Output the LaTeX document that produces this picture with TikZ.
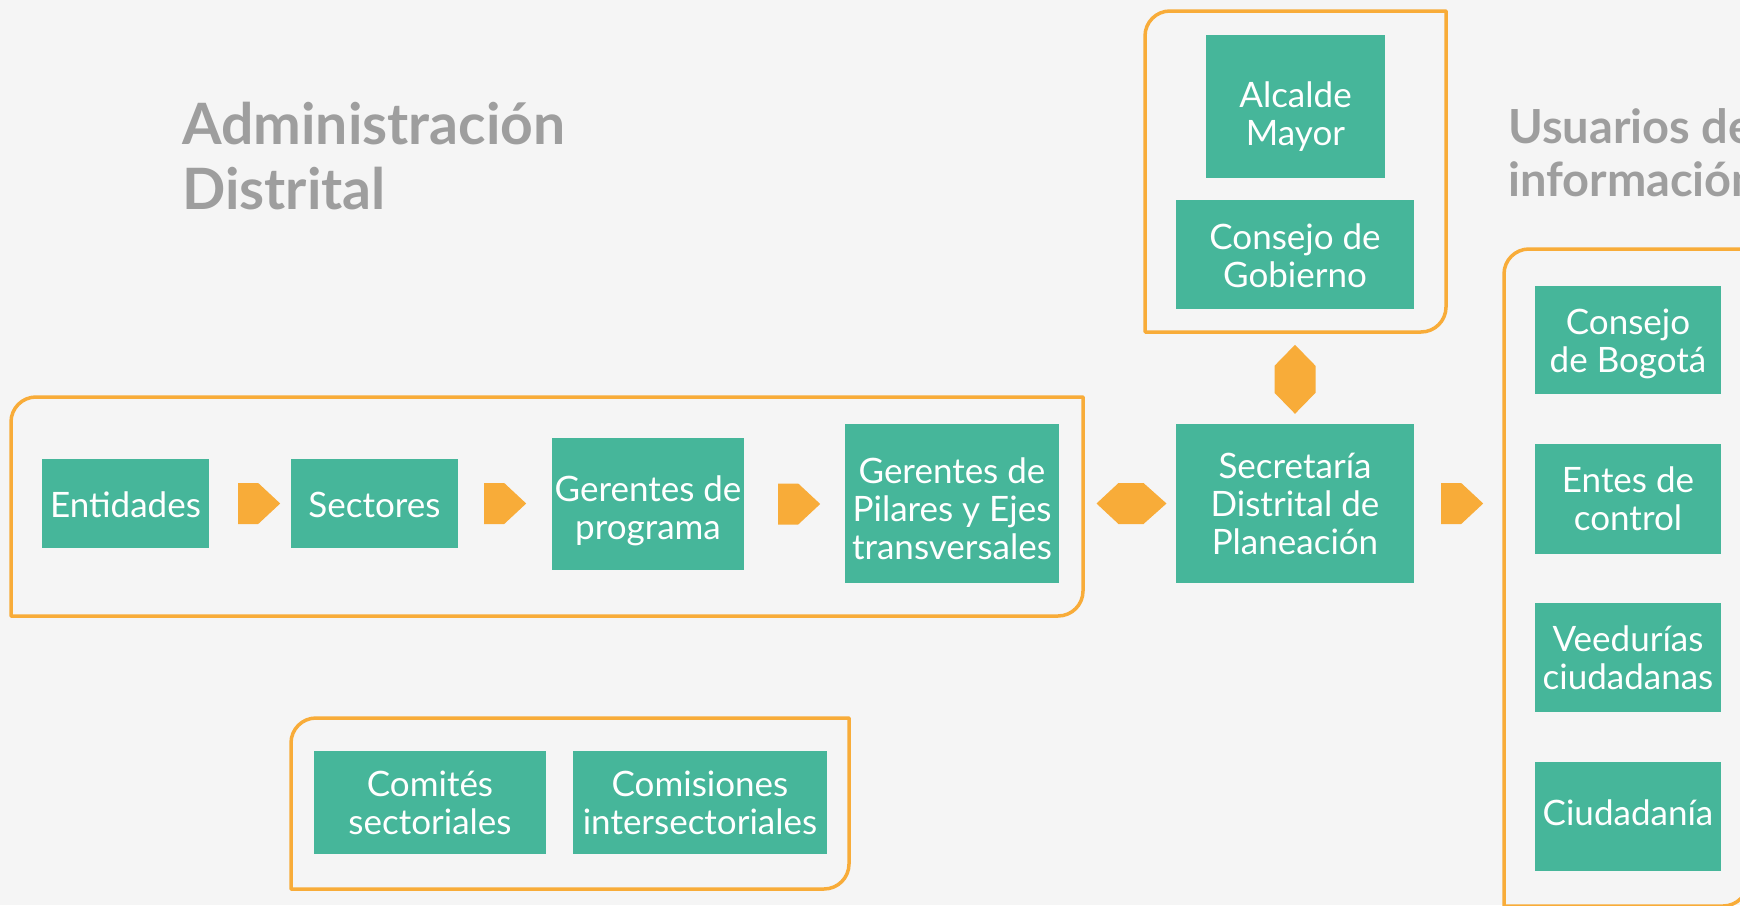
\documentclass[tikz,border=0pt]{standalone}
\usepackage{fontspec}
\setmainfont{Lato}
\usetikzlibrary{calc}
\definecolor{bgcol}{HTML}{F5F5F5}
\definecolor{boxteal}{HTML}{46B69A}
\definecolor{lineorange}{HTML}{F8AC39}
\definecolor{titlegray}{HTML}{9E9E9E}
\tikzset{
  tbox/.style={fill=boxteal, text=white, inner sep=0pt, align=center,
    font=\fontsize{35}{38}\selectfont},
  cont/.style={draw=lineorange, line width=3.5pt, line join=round},
  arr/.style={fill=lineorange},
  ttl/.style={text=titlegray, inner sep=0pt, anchor=base west,
    font=\fontsize{57}{65}\selectfont\bfseries},
  ttlb/.style={text=titlegray, inner sep=0pt, anchor=base west,
    font=\fontsize{47}{53}\selectfont\bfseries},
  fwd/.pic={\fill[arr] (0,-20.5) -- (20,-20.5) -- (42,0) -- (20,20.5) -- (0,20.5) -- cycle;},
  dblh/.pic={\fill[arr] (-35,0) -- (-13,-20.5) -- (12,-20.5) -- (35,0) -- (12,20.5) -- (-13,20.5) -- cycle;},
  dblv/.pic={\fill[arr] (0,-34.5) -- (20.5,-13.5) -- (20.5,13.5) -- (0,34.5) -- (-20.5,13.5) -- (-20.5,-13.5) -- cycle;}
}
% lower the ink of a box text by #1 without changing the box it reports
\newcommand\lowtext[2]{\raisebox{-#1}[\height][\depth]{\begin{tabular}{@{}c@{}}#2\end{tabular}}}
\newcommand\leafbox[4]{%
  \draw[cont] (#1,#4) -- (#1,#2+25) arc[start angle=180,end angle=90,radius=25pt]
    -- (#3,#2) -- (#3,#4-25) arc[start angle=0,end angle=-90,radius=25pt] -- cycle;}
\begin{document}
\begin{tikzpicture}[x=1pt,y=-1pt]
\fill[bgcol] (0,0) rectangle (1740,905);
\useasboundingbox (0,0) rectangle (1740,905);
\clip (0,0) rectangle (1740,905);

% titles
\node[ttl] (t1) at (182,144) {Administración};
\node[ttl] (t2) at (182,209) {Distrital};
\node[ttlb] (u1) at (1508,143) {Usuarios de};
\node[ttlb] (u2) at (1508,196) {información};

% containers
\leafbox{11}{397}{1083}{616}
\leafbox{1145}{11}{1446}{332}
\leafbox{291}{718}{849}{889}
\leafbox{1504}{249}{1748}{906}

% boxes
\node[tbox, minimum width=167pt, minimum height=89pt] (ent) at (125.5,503.5) {\lowtext{6.5pt}{Entidades}};
\node[tbox, minimum width=167pt, minimum height=89pt] (sec) at (374.5,503.5) {\lowtext{6.5pt}{Sectores}};
\node[tbox, minimum width=192pt, minimum height=132pt] (gprog) at (648,504) {\lowtext{9pt}{Gerentes de\\programa}};
\node[tbox, minimum width=214pt, minimum height=159pt] (gpil) at (952,503.5) {\lowtext{10.5pt}{Gerentes de\\Pilares y Ejes\\transversales}};
\node[tbox, minimum width=238pt, minimum height=159pt] (sdp) at (1295,503.5) {Secretaría\\Distrital de\\Planeación};
\node[tbox, minimum width=179pt, minimum height=143pt] (alc) at (1295.5,106.5) {\lowtext{12pt}{Alcalde\\Mayor}};
\node[tbox, minimum width=238pt, minimum height=109pt] (cgob) at (1295,254.5) {\lowtext{6.5pt}{Consejo de\\Gobierno}};
\node[tbox, minimum width=186pt, minimum height=108pt] (cbog) at (1628,340) {\lowtext{6pt}{Consejo\\de Bogotá}};
\node[tbox, minimum width=186pt, minimum height=110pt] (entes) at (1628,499) {Entes de\\control};
\node[tbox, minimum width=186pt, minimum height=109pt] (veed) at (1628,657.5) {Veedurías\\ciudadanas};
\node[tbox, minimum width=186pt, minimum height=109pt] (ciud) at (1628,816.5) {\lowtext{1.5pt}{Ciudadanía}};
\node[tbox, minimum width=232pt, minimum height=103pt] (comi) at (430,802.5) {Comités\\sectoriales};
\node[tbox, minimum width=254pt, minimum height=103pt] (comis) at (700,802.5) {Comisiones\\intersectoriales};

% arrows between nodes
\pic at ($(ent.east)+(29,0)$) {fwd};
\pic at ($(sec.east)+(26,0)$) {fwd};
\pic at ($(gprog.east)+(34,0)$) {fwd};
\pic at ($(sdp.east)+(27,0)$) {fwd};
\pic at ($(gpil.east)!0.62!(sdp.west)$) {dblh};
\pic at ($(sdp.north)+(0,-44.5)$) {dblv};
\end{tikzpicture}
\end{document}
